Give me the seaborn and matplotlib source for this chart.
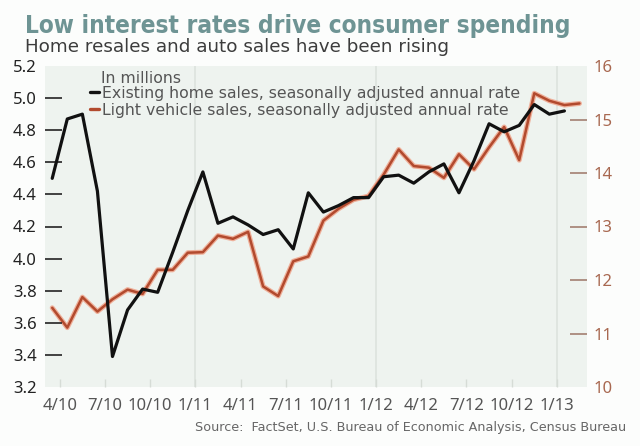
import os
import numpy as np
import pandas as pd
import matplotlib
matplotlib.use("Agg")
import matplotlib.pyplot as plt
import matplotlib.patheffects as pe
from matplotlib.lines import Line2D
from matplotlib import font_manager as fm
import seaborn as sns

# ---- data ----
home_sales = [4.50, 4.87, 4.90, 4.42, 3.39, 3.68, 3.81, 3.79, 4.04, 4.30,
              4.54, 4.22, 4.26, 4.21, 4.15, 4.18, 4.06, 4.41, 4.29, 4.33,
              4.38, 4.38, 4.51, 4.52, 4.47, 4.54, 4.59, 4.41, 4.61, 4.84,
              4.79, 4.83, 4.96, 4.90, 4.92]
vehicle_sales = [11.48, 11.11, 11.68, 11.41, 11.64, 11.82, 11.74, 12.19, 12.19, 12.51,
                 12.52, 12.83, 12.77, 12.90, 11.88, 11.70, 12.35, 12.44, 13.11, 13.33,
                 13.50, 13.57, 13.97, 14.44, 14.13, 14.10, 13.91, 14.35, 14.07, 14.48,
                 14.86, 14.24, 15.49, 15.35, 15.27, 15.30]
x_tick_labels = ["4/10", "7/10", "10/10", "1/11", "4/11", "7/11", "10/11",
                 "1/12", "4/12", "7/12", "10/12", "1/13"]
left_ticks = [3.2, 3.4, 3.6, 3.8, 4.0, 4.2, 4.4, 4.6, 4.8, 5.0, 5.2]
right_ticks = [10, 11, 12, 13, 14, 15, 16]

title = "Low interest rates drive consumer spending"
subtitle = "Home resales and auto sales have been rising"
legend_title = "In millions"
label_home = "Existing home sales, seasonally adjusted annual rate"
label_auto = "Light vehicle sales, seasonally adjusted annual rate"
source = "Source:  FactSet, U.S. Bureau of Economic Analysis, Census Bureau"

df_home = pd.DataFrame({"m": np.arange(len(home_sales)), "v": home_sales})
df_auto = pd.DataFrame({"m": np.arange(len(vehicle_sales)), "v": vehicle_sales})

# ---- style ----
sns.set_theme(style="white")
plt.rcParams["font.family"] = ["DejaVu Sans"]
COND = ["Noto Sans Condensed", "DejaVu Sans Condensed", "Noto Sans", "DejaVu Sans"]


def pick_condensed_bold():
    best = None
    best_score = -1
    for f in fm.fontManager.ttflist:
        base = os.path.basename(f.fname).lower()
        if "cond" not in base and "narrow" not in base:
            continue
        if "bold" not in base or "semi" in base or "extra" in base or "italic" in base \
                or "oblique" in base:
            continue
        score = 1
        if base.startswith("notosans-"):
            score = 5
        elif base.startswith("liberationsansnarrow"):
            score = 4
        elif base.startswith("dejavusans"):
            score = 3
        elif "mono" in base or "serif" in base:
            score = 0
        if score > best_score:
            best, best_score = f, score
    if best is None:
        return fm.FontProperties(family=COND, stretch="condensed", weight="bold")
    return fm.FontProperties(fname=best.fname)


TITLE_FP = pick_condensed_bold()

BLACK = "#111111"
RED = "#b24a2e"
RED_HALO = "#eeb09a"
RIGHT_LBL = "#a86850"
BG = "#eef3ef"

fig = plt.figure(figsize=(6.4, 4.46), dpi=100)
fig.patch.set_facecolor("#fcfdfc")
ax2 = fig.add_axes([45 / 640, 1 - 387 / 446, (587 - 45) / 640, (387 - 66) / 446])
ax2.set_facecolor(BG)
ax = ax2.twinx()  # left axis drawn on top
ax.yaxis.tick_left()
ax2.yaxis.tick_right()

sns.lineplot(data=df_auto, x="m", y="v", ax=ax2, color=RED, linewidth=1.8, zorder=3)
for ln in ax2.lines:
    ln.set_path_effects([pe.Stroke(linewidth=3.6, foreground=RED_HALO), pe.Normal()])
sns.lineplot(data=df_home, x="m", y="v", ax=ax, color=BLACK, linewidth=2.3, zorder=4)

ax2.set_xlim(-0.48, 35.5)
ax.set_ylim(3.2, 5.2)
ax2.set_ylim(10, 16)

# x ticks at quarters
qpos = np.arange(0, 34, 3) + 0.5
ax2.set_xticks(qpos)
ax2.set_xticklabels(x_tick_labels, family=COND, fontstretch="condensed",
                    fontsize=12, color="#555555")
ax2.tick_params(axis="x", direction="in", length=6, width=1, color="#d6dcd6", pad=8, bottom=True)
for xp, lab in zip(qpos, x_tick_labels):
    if lab.startswith("1/"):
        ax2.axvline(xp, color="#dde3de", linewidth=1.2, zorder=0)

# left axis ticks
ax.set_yticks(left_ticks)
ax.set_yticklabels([f"{v:.1f}" for v in left_ticks], family=COND, fontstretch="condensed",
                   fontsize=12, color="#222222")
ax.tick_params(axis="y", direction="in", length=12, width=1.3, color="#333333", pad=6,
               left=True, right=False, labelleft=True, labelright=False)
yt = ax.yaxis.get_major_ticks()
yt[0].tick1line.set_visible(False)
yt[-1].tick1line.set_visible(False)

# right axis ticks
ax2.set_yticks(right_ticks)
ax2.set_yticklabels([str(v) for v in right_ticks], family=COND, fontstretch="condensed",
                    fontsize=12, color=RIGHT_LBL)
ax2.tick_params(axis="y", direction="in", length=12, width=1.1, color="#9c7566", pad=5,
                right=True, left=False, labelright=True, labelleft=False)
yt2 = ax2.yaxis.get_major_ticks()
yt2[0].tick2line.set_visible(False)
yt2[-1].tick2line.set_visible(False)

for a in (ax, ax2):
    a.set_xlabel("")
    a.set_ylabel("")
    for s in a.spines.values():
        s.set_visible(False)

renderer = fig.canvas.get_renderer()


def fit_width(t, target_px):
    w = t.get_window_extent(renderer).width
    t.set_fontsize(t.get_fontsize() * target_px / w)
    return t.get_fontsize()


# titles and source
t_title = fig.text(25 / 640, 1 - 33 / 446, title, fontproperties=TITLE_FP,
                   color="#6e9494", ha="left", va="baseline")
t_title.set_fontsize(21)
fit_width(t_title, 545)
t_sub = fig.text(25 / 640, 1 - 52 / 446, subtitle, fontsize=12, color="#3c3c3c",
                 ha="left", va="baseline")
fit_width(t_sub, 423)
t_src = fig.text(626 / 640, 1 - 431 / 446, source, fontsize=8.3, color="#666666",
                 ha="right", va="baseline")
fit_width(t_src, 427)

# legend
probe = fig.text(0, 0, label_home, fontsize=10.5)
leg_fs = fit_width(probe, 424)
probe.remove()

fig.text(101 / 640, 1 - 83 / 446, legend_title, fontsize=leg_fs, color="#555555",
         ha="left", va="baseline")
handles = [Line2D([], [], color=BLACK, linewidth=2.4),
           Line2D([], [], color=RED, linewidth=2.4)]
leg = ax.legend(handles, [label_home, label_auto],
                loc="upper left", bbox_to_anchor=(90 / 640, 1 - 86 / 446),
                bbox_transform=fig.transFigure, frameon=False,
                handlelength=0.55, handletextpad=0.2, labelspacing=0.12,
                fontsize=leg_fs, borderpad=0, borderaxespad=0)
for t in leg.get_texts():
    t.set_color("#555555")

fig.savefig("out.png", dpi=100, facecolor=fig.get_facecolor())
